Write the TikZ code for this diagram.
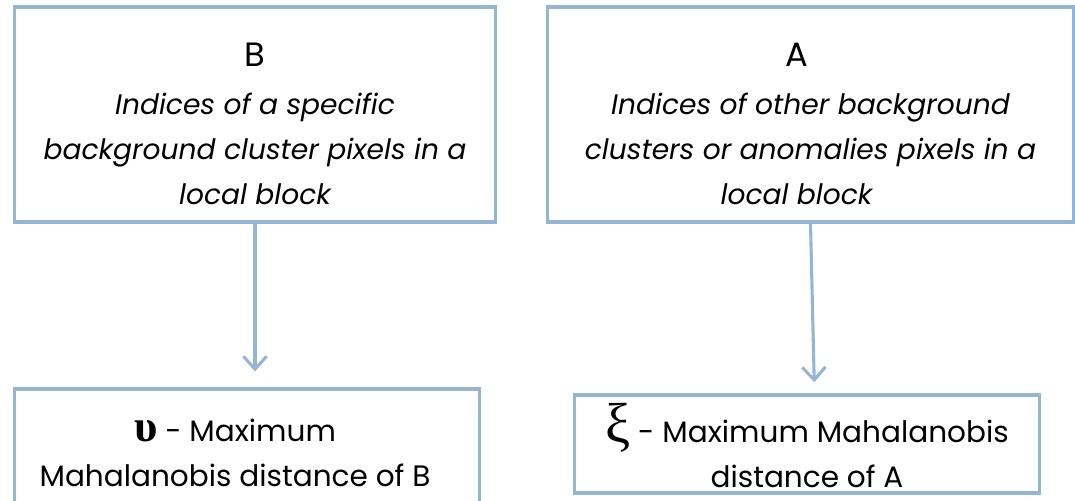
\documentclass[tikz,border=0pt]{standalone}
\usepackage{fontspec}
\setmainfont{Poppins}
\newfontfamily\greekfont{Liberation Serif}
\usepackage{tikz}
\usetikzlibrary{arrows.meta,positioning}
\definecolor{boxblue}{HTML}{94B6D4}
\newcommand{\padR}[1]{\hspace*{#1}}

\begin{document}
\begin{tikzpicture}[
  x=0.025cm, y=0.025cm,
  every node/.style={draw=boxblue,line width=2.2pt,fill=white,align=center,
    inner sep=0pt,font=\fontsize{20}{32}\selectfont},
  flow/.style={draw=boxblue,line width=2.2pt,
    -{Straight Barb[length=0.32cm,width=0.58cm]}}]
\useasboundingbox (0,0) rectangle (1075,500);
\node[minimum width=12cm,minimum height=5.375cm] (boxB) at (255,385.5)
 {\rule{0pt}{30pt}{\fontsize{24}{26}\selectfont B}\\[2pt]
  \itshape Indices of a specific\\ \itshape background cluster pixels in a\\ \itshape local block};
\node[minimum width=13.125cm,minimum height=5.375cm] (boxA) at (810.5,385.5)
 {\rule{0pt}{30pt}{\fontsize{24}{26}\selectfont A}\padR{0.7cm}\\[2pt]
  \itshape Indices of other background\padR{0.7cm}\\
  \itshape clusters or anomalies pixels in a\padR{0.7cm}\\
  \itshape local block\padR{0.7cm}};
\node[minimum width=11.6cm,minimum height=2.85cm,font=\fontsize{21}{32}\selectfont] (distB) at (247,54)
 {\rule{0pt}{26pt}{\greekfont\fontsize{32}{32}\selectfont\bfseries υ} - Maximum\padR{0.6cm}\\
  Mahalanobis distance of B\padR{0.6cm}};
\node[minimum width=11.6cm,minimum height=2.45cm,font=\fontsize{21}{32}\selectfont] (distA) at (807,56)
 {\rule{0pt}{30pt}{\greekfont\fontsize{40}{40}\selectfont ξ} - Maximum Mahalanobis\\ distance of A};
\draw[flow,shorten >=0.4cm] (boxB.south) -- (boxB.south |- distB.north);
\draw[flow,shorten >=0.28cm] (boxA.south) -- ([xshift=0.1cm]boxA.south |- distA.north);
\end{tikzpicture}
\end{document}
